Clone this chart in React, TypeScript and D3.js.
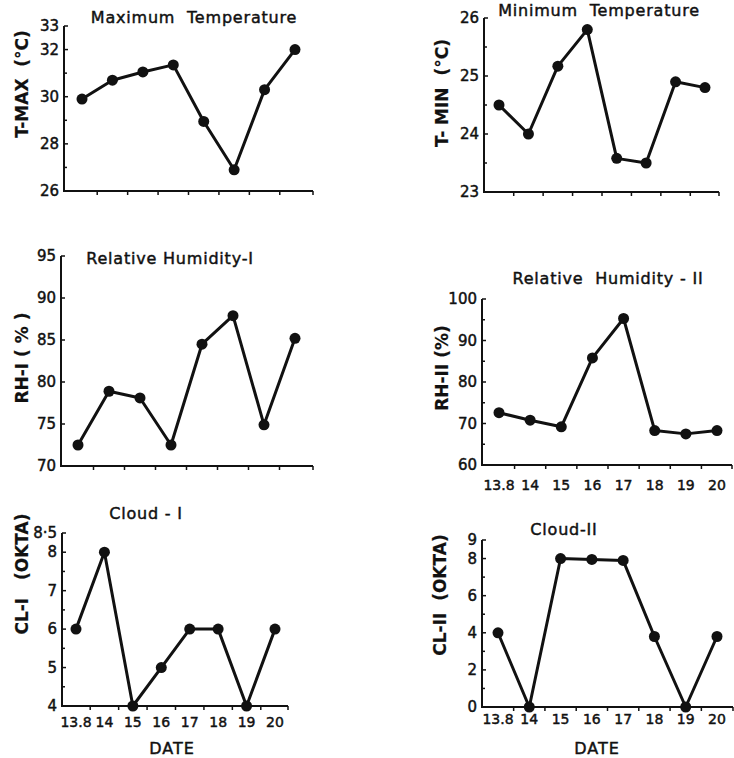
import React from "react";
import * as d3 from "d3";

// ---- data ----
const dates = ["13.8", "14", "15", "16", "17", "18", "19", "20"];
const tMax = [29.9, 30.7, 31.05, 31.35, 28.95, 26.9, 30.3, 32.0];
const tMin = [24.5, 24.0, 25.17, 25.8, 23.58, 23.5, 24.9, 24.8];
const rh1 = [72.5, 78.9, 78.1, 72.5, 84.5, 87.9, 74.9, 85.2];
const rh2 = [72.6, 70.8, 69.2, 85.8, 95.3, 68.3, 67.5, 68.3];
const cl1 = [6, 8, 4, 5, 6, 6, 4, 6];
const cl2 = [4, 0, 8, 7.95, 7.9, 3.8, 0, 3.8];

const tMaxTicks = [26, 28, 30, 32, 33];
const tMaxMinor = [27, 29, 31];
const tMinTicks = [23, 24, 25, 26];
const tMinMinor = [23.5, 24.5, 25.5];
const rh1Ticks = [70, 75, 80, 85, 90, 95];
const rh2Ticks = [60, 70, 80, 90, 100];
const rh2Minor = [65, 75, 85, 95];
const cl1Ticks = [4, 5, 6, 7, 8, 8.5];
const cl1Minor = [4.5, 5.5, 6.5, 7.5];
const cl2Ticks = [0, 2, 4, 6, 8, 9];
const cl2Minor = [1, 3, 5, 7];

const FONT = "'DejaVu Sans', Verdana, sans-serif";

type PanelCfg = {
  values: number[];
  domain: [number, number];
  yTop: number;
  yBottom: number;
  axisX: number;
  axisEnd: number;
  firstX: number;
  lastX: number;
  ticks: number[];
  minor?: number[];
  fmt?: (v: number) => string;
  title: string;
  titleX: number;
  titleY: number;
  ylabel: string;
  ylabelX: number;
  ylabelY: number;
  xLabels?: boolean;
  xLabelY?: number;
  dateY?: number;
  dateX?: number;
};

const txt = {
  fontFamily: FONT,
  fill: "#111",
  stroke: "#111",
  strokeWidth: 0.45,
} as const;

function Panel(p: PanelCfg) {
  const y = d3.scaleLinear().domain(p.domain).range([p.yBottom, p.yTop]);
  const x = d3.scaleLinear().domain([0, dates.length - 1]).range([p.firstX, p.lastX]);
  const line = d3
    .line<number>()
    .x((_, i) => x(i))
    .y((v) => y(v));
  const xTicks = d3.range(dates.length - 1).map((i) => x(i + 0.5));
  const fmt = p.fmt || ((v: number) => String(v));
  return (
    <g>
      <path
        d={`M${p.axisX},${p.yTop}V${p.yBottom}H${p.axisEnd}`}
        fill="none"
        stroke="#111"
        strokeWidth={2}
      />
      {p.ticks.map((t) => (
        <g key={"t" + t}>
          <line x1={p.axisX} x2={p.axisX + 4} y1={y(t)} y2={y(t)} stroke="#111" strokeWidth={1.5} />
          <text
            x={p.axisX - 5}
            y={y(t)}
            textAnchor="end"
            dominantBaseline="central"
            fontSize={15}
            {...txt}
          >
            {fmt(t)}
          </text>
        </g>
      ))}
      {(p.minor || []).map((t) => (
        <line key={"m" + t} x1={p.axisX} x2={p.axisX + 3} y1={y(t)} y2={y(t)} stroke="#111" strokeWidth={1.5} />
      ))}
      {xTicks.concat([p.axisEnd]).map((tx, i) => (
        <line key={"x" + i} x1={tx} x2={tx} y1={p.yBottom} y2={p.yBottom + 4} stroke="#111" strokeWidth={1.5} />
      ))}
      {p.xLabels &&
        dates.map((d, i) => (
          <text
            key={"xl" + i}
            x={x(i)}
            y={p.xLabelY}
            textAnchor="middle"
            dominantBaseline="central"
            fontSize={14}
            {...txt}
          >
            {d}
          </text>
        ))}
      {p.dateY && (
        <text
          x={p.dateX}
          y={p.dateY}
          textAnchor="middle"
          dominantBaseline="central"
          fontSize={16}
          letterSpacing={1}
          {...txt}
        >
          DATE
        </text>
      )}
      <path d={line(p.values) || ""} fill="none" stroke="#111" strokeWidth={3} strokeLinejoin="round" />
      {p.values.map((v, i) => (
        <circle key={"c" + i} cx={x(i)} cy={y(v)} r={5.5} fill="#111" />
      ))}
      <text
        x={p.titleX}
        y={p.titleY}
        textAnchor="middle"
        dominantBaseline="central"
        fontSize={16}
        letterSpacing={0.8}
        {...txt}
        style={{ whiteSpace: "pre" }}
      >
        {p.title}
      </text>
      <text
        transform={`translate(${p.ylabelX},${p.ylabelY}) rotate(-90)`}
        textAnchor="middle"
        dominantBaseline="central"
        fontSize={17}
        fontWeight={700}
        {...txt}
        strokeWidth={0.2}
        style={{ whiteSpace: "pre" }}
      >
        {p.ylabel}
      </text>
    </g>
  );
}

export default function App() {
  return (
    <svg
      width={734}
      height={758}
      style={{ position: "absolute", left: 0, top: 0, background: "#fff" }}
    >
      <rect width={734} height={758} fill="#fff" />
      <Panel
        values={tMax}
        domain={[26, 33]}
        yTop={26}
        yBottom={191}
        axisX={64}
        axisEnd={313}
        firstX={82}
        lastX={295}
        ticks={tMaxTicks}
        minor={tMaxMinor}
        title="Maximum  Temperature"
        titleX={194}
        titleY={17}
        ylabel="T-MAX  (°C)"
        ylabelX={22}
        ylabelY={84}
      />
      <Panel
        values={tMin}
        domain={[23, 26]}
        yTop={18}
        yBottom={192}
        axisX={484}
        axisEnd={719}
        firstX={499}
        lastX={705}
        ticks={tMinTicks}
        minor={tMinMinor}
        title="Minimum  Temperature"
        titleX={599}
        titleY={10}
        ylabel="T- MIN  (°C)"
        ylabelX={442}
        ylabelY={93}
      />
      <Panel
        values={rh1}
        domain={[70, 95]}
        yTop={256}
        yBottom={466}
        axisX={61}
        axisEnd={313}
        firstX={78}
        lastX={295}
        ticks={rh1Ticks}
        title="Relative Humidity-I"
        titleX={170}
        titleY={258}
        ylabel="RH-I ( % )"
        ylabelX={22}
        ylabelY={358}
      />
      <Panel
        values={rh2}
        domain={[60, 100]}
        yTop={299}
        yBottom={465}
        axisX={482}
        axisEnd={732}
        firstX={499}
        lastX={717}
        ticks={rh2Ticks}
        minor={rh2Minor}
        title="Relative  Humidity - II"
        titleX={608}
        titleY={278}
        ylabel="RH-II (%)"
        ylabelX={442}
        ylabelY={368}
        xLabels
        xLabelY={485}
      />
      <Panel
        values={cl1}
        domain={[4, 8.5]}
        yTop={533}
        yBottom={706}
        axisX={62}
        axisEnd={288}
        firstX={76}
        lastX={275}
        ticks={cl1Ticks}
        minor={cl1Minor}
        fmt={(v) => (v === 8.5 ? "8·5" : String(v))}
        title="Cloud - I"
        titleX={146}
        titleY={513}
        ylabel="CL-I   (OKTA)"
        ylabelX={22}
        ylabelY={574}
        xLabels
        xLabelY={722}
        dateY={748}
        dateX={172}
      />
      <Panel
        values={cl2}
        domain={[0, 9]}
        yTop={540}
        yBottom={707}
        axisX={482}
        axisEnd={733}
        firstX={498}
        lastX={717}
        ticks={cl2Ticks}
        minor={cl2Minor}
        title="Cloud-II"
        titleX={564}
        titleY={529}
        ylabel="CL-II  (OKTA)"
        ylabelX={440}
        ylabelY={595}
        xLabels
        xLabelY={719}
        dateY={748}
        dateX={597}
      />
    </svg>
  );
}
